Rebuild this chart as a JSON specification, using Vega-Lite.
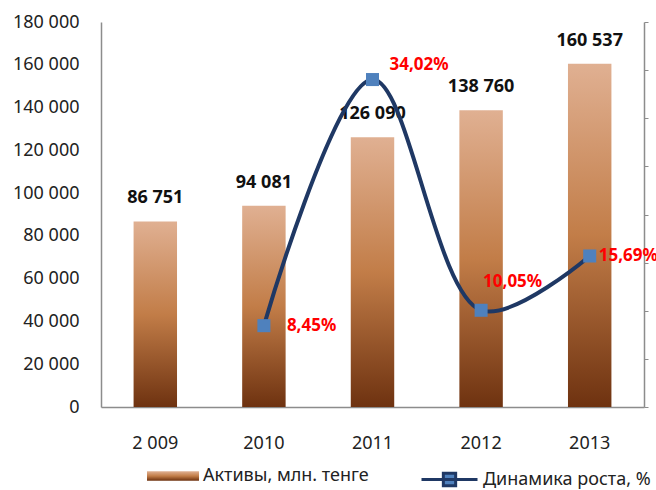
{
  "$schema": "https://vega.github.io/schema/vega-lite/v6.json",
  "autosize": "none",
  "width": 543,
  "height": 385,
  "padding": {"left": 101, "top": 22, "right": 12, "bottom": 83},
  "background": "white",
  "data": {
    "values": [
      {"year": "2 009", "assets": 86751, "growth": null},
      {"year": "2010", "assets": 94081, "growth": 0.0845},
      {"year": "2011", "assets": 126090, "growth": 0.3402},
      {"year": "2012", "assets": 138760, "growth": 0.1005},
      {"year": "2013", "assets": 160537, "growth": 0.1569}
    ]
  },
  "encoding": {
    "x": {
      "field": "year",
      "type": "nominal",
      "sort": null,
      "scale": {"paddingInner": 0.6, "paddingOuter": 0.3},
      "axis": {
        "title": null,
        "labelAngle": 0,
        "ticks": false,
        "labelPadding": 27,
        "labelFontSize": 18,
        "labelColor": "#222222",
        "domainColor": "#8c8c8c",
        "domainWidth": 1.5
      }
    }
  },
  "layer": [
    {
      "layer": [
        {
          "mark": {
            "type": "bar",
            "strokeWidth": 0,
            "fill": {
              "gradient": "linear",
              "x1": 0, "y1": 0, "x2": 0, "y2": 1,
              "stops": [
                {"offset": 0, "color": "#e0b092"},
                {"offset": 0.5, "color": "#c27d48"},
                {"offset": 1, "color": "#6e3210"}
              ]
            }
          },
          "encoding": {
            "y": {
              "field": "assets",
              "type": "quantitative",
              "scale": {"domain": [0, 180000], "nice": false},
              "axis": {
                "title": null,
                "values": [0, 20000, 40000, 60000, 80000, 100000, 120000, 140000, 160000, 180000],
                "format": ",d",
                "ticks": false,
                "grid": false,
                "labelPadding": 22,
                "labelFontSize": 18,
                "labelColor": "#222222",
                "domainColor": "#8c8c8c",
                "domainWidth": 1.5
              }
            },
            "stroke": {
              "datum": "Активы, млн. тенге",
              "scale": {"range": ["#c98a5a"]},
              "legend": {
                "title": null,
                "orient": "none",
                "legendX": 46,
                "legendY": 428,
                "symbolType": "M-1,-0.18H1V0.18H-1Z",
                "symbolSize": 2704,
                "symbolStrokeWidth": 0,
                "labelFontSize": 18,
                "labelColor": "#222222",
                "labelOffset": 4,
                "labelLimit": 0,
                "encode": {
                  "symbols": {
                    "update": {
                      "fill": {
                        "value": {
                          "gradient": "linear",
                          "x1": 0, "y1": 0, "x2": 0, "y2": 1,
                          "stops": [
                            {"offset": 0, "color": "#e6a57a"},
                            {"offset": 0.5, "color": "#d4864f"},
                            {"offset": 1, "color": "#b06a3a"}
                          ]
                        }
                      },
                      "opacity": {"value": 1}
                    }
                  }
                }
              }
            }
          }
        },
        {
          "mark": {"type": "text", "fontWeight": "bold", "fontSize": 18, "color": "#111111", "baseline": "middle", "dy": -23},
          "encoding": {
            "y": {"field": "assets", "type": "quantitative"},
            "text": {"field": "assets", "type": "quantitative", "format": ",d"}
          }
        }
      ]
    },
    {
      "layer": [
        {
          "mark": {"type": "line", "interpolate": "catmull-rom", "strokeWidth": 4},
          "encoding": {
            "y": {
              "field": "growth",
              "type": "quantitative",
              "scale": {"domain": [0, 0.4], "nice": false},
              "axis": {
                "orient": "right",
                "title": null,
                "values": [0, 0.05, 0.1, 0.15, 0.2, 0.25, 0.3, 0.35, 0.4],
                "labels": false,
                "grid": false,
                "tickSize": 4,
                "tickColor": "#8c8c8c",
                "domainColor": "#8c8c8c",
                "domainWidth": 1.5
              }
            },
            "color": {
              "datum": "Динамика роста, %",
              "scale": {"range": ["#1f3864"]},
              "legend": {
                "title": null,
                "orient": "none",
                "legendX": 319,
                "legendY": 428,
                "symbolType": "M-1,0H1M-0.22,-0.22H0.22V0.22H-0.22Z",
                "symbolSize": 3136,
                "symbolStrokeWidth": 3,
                "symbolFillColor": "#4f81bd",
                "labelFontSize": 18,
                "labelColor": "#222222",
                "labelOffset": 4,
                "labelLimit": 0
              }
            }
          }
        },
        {
          "mark": {"type": "point", "shape": "square", "filled": true, "size": 170, "color": "#4f81bd", "opacity": 1},
          "encoding": {
            "y": {"field": "growth", "type": "quantitative"}
          }
        },
        {
          "transform": [{"filter": "datum.year == '2010'"}],
          "mark": {"type": "text", "fontWeight": "bold", "fontSize": 17, "color": "#ff0000", "align": "left", "baseline": "middle", "dx": 23, "dy": 0},
          "encoding": {
            "y": {"field": "growth", "type": "quantitative"},
            "text": {"field": "growth", "type": "quantitative", "format": ".2%"}
          }
        },
        {
          "transform": [{"filter": "datum.year == '2011'"}],
          "mark": {"type": "text", "fontWeight": "bold", "fontSize": 17, "color": "#ff0000", "align": "left", "baseline": "middle", "dx": 17, "dy": -15},
          "encoding": {
            "y": {"field": "growth", "type": "quantitative"},
            "text": {"field": "growth", "type": "quantitative", "format": ".2%"}
          }
        },
        {
          "transform": [{"filter": "datum.year == '2012'"}],
          "mark": {"type": "text", "fontWeight": "bold", "fontSize": 17, "color": "#ff0000", "align": "left", "baseline": "middle", "dx": 2, "dy": -28},
          "encoding": {
            "y": {"field": "growth", "type": "quantitative"},
            "text": {"field": "growth", "type": "quantitative", "format": ".2%"}
          }
        },
        {
          "transform": [{"filter": "datum.year == '2013'"}],
          "mark": {"type": "text", "fontWeight": "bold", "fontSize": 17, "color": "#ff0000", "align": "left", "baseline": "middle", "dx": 9, "dy": 0},
          "encoding": {
            "y": {"field": "growth", "type": "quantitative"},
            "text": {"field": "growth", "type": "quantitative", "format": ".2%"}
          }
        }
      ]
    }
  ],
  "resolve": {"scale": {"y": "independent"}},
  "config": {
    "font": "Noto Sans",
    "view": {"stroke": null},
    "locale": {
      "number": {"decimal": ",", "thousands": " ", "grouping": [3], "currency": ["", ""]}
    }
  }
}
